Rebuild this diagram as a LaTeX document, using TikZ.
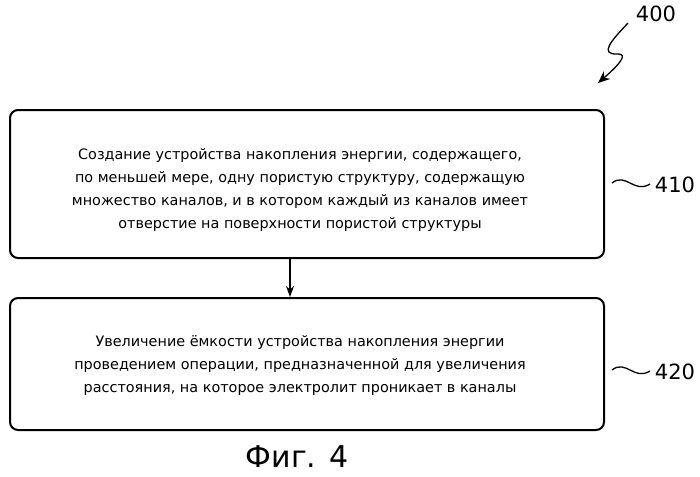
\documentclass[tikz,border=0pt]{standalone}
\usepackage{fontspec}
\setmainfont{DejaVu Sans}
\usetikzlibrary{arrows.meta}
\begin{document}
\begin{tikzpicture}[x=1pt,y=-1pt,
  stepbox/.style={draw,line width=2pt,rounded corners=8pt,minimum width=594pt,inner sep=0pt},
  steptext/.style={align=center,font=\fontsize{14.4}{23}\selectfont,inner sep=0pt},
  lbl/.style={font=\fontsize{21}{24}\selectfont},
  lead/.style={line width=1.3pt}]
\useasboundingbox (0,0) rectangle (700,476);
\node[stepbox,minimum height=148pt] (b1) at (307,184) {};
\node[stepbox,minimum height=132pt] (b2) at (307,364) {};
\node[steptext] (t1) at (300,190) {Создание устройства накопления энергии, содержащего,\\по меньшей мере, одну пористую структуру, содержащую\\множество каналов, и в котором каждый из каналов имеет\\отверстие на поверхности пористой структуры};
\node[steptext] (t2) at (300,366) {Увеличение ёмкости устройства накопления энергии\\проведением операции, предназначенной для увеличения\\расстояния, на которое электролит проникает в каналы};
\draw[line width=1.3pt,-{Stealth[length=11pt,width=8pt]}] (b1.south -| 290,0) -- (b2.north -| 290,0);
\node[lbl] (l410) at (675,185) {410};
\node[lbl] (l420) at (675,372) {420};
\draw[lead] (612,183) .. controls (626,172) and (634,194) .. (650,184);
\draw[lead] (612,370) .. controls (626,359) and (634,381) .. (650,371);
\node[lbl] (l400) at (656,14) {400};
\coordinate (z0) at (628,23);
\draw[line width=1.3pt,-{Stealth[length=12pt,width=10pt]}] (z0) .. controls (612,40) and (598,55) .. (618,54) .. controls (628,54) and (620,64) .. (598,83);
\node[font=\fontsize{30}{34}\selectfont] (fig) at (297,457) {Фиг. 4};
\end{tikzpicture}
\end{document}
